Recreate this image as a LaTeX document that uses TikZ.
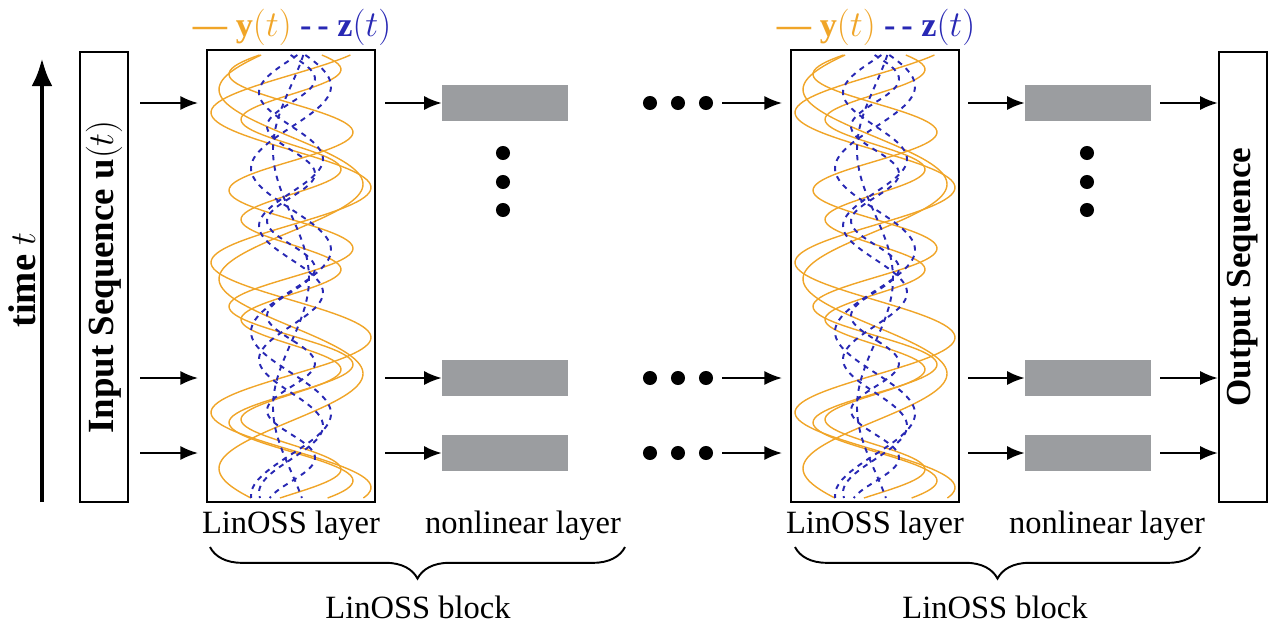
\documentclass[tikz,border=0pt]{standalone}
\usepackage{fontspec}
\setmainfont{Liberation Serif}
\usetikzlibrary{arrows.meta, decorations.pathreplacing}
\definecolor{yorange}{RGB}{240, 165, 40}
\definecolor{zblue}{RGB}{40, 40, 180}
\definecolor{blockgray}{RGB}{155, 157, 160}

\newcommand{\oscwaves}[1]{%
    \begin{scope}
        \clip (#1-82, 52) rectangle (#1+82, 500);
        \foreach \amp/\frq/\ph in {80/2.4/0, 62/3.1/40, 72/1.9/100, 50/3.6/200} {
            \draw[yorange, thick] plot[domain=55:498, samples=200] ({#1+\amp*sin(\frq*\x+\ph)}, \x);
        }
        \foreach \amp/\frq/\ph in {32/2.7/20, 24/3.8/150, 40/2.2/260, 18/1.4/60} {
            \draw[zblue, line width=1.1pt, dashed] plot[domain=55:498, samples=200] ({#1+\amp*sin(\frq*\x+\ph)}, \x);
        }
    \end{scope}
}

\begin{document}
\begin{tikzpicture}[x=0.02cm, y=-0.02cm,
        seqbox/.style={draw, line width=1.4pt, minimum width=0.96cm, minimum height=9cm, inner sep=0pt},
        layerbox/.style={draw, line width=1.4pt, minimum width=3.36cm, minimum height=9.04cm, inner sep=0pt},
        nonlin/.style={fill=blockgray, minimum width=2.52cm, minimum height=0.72cm, inner sep=0pt},
        conn/.style={-{Latex[length=10pt, width=8pt]}, line width=1.1pt},
        lbl/.style={font=\fontsize{18.5}{20}\selectfont},
        dot/.style={circle, fill, inner sep=0pt, minimum size=8pt},
        brace/.style={decorate, decoration={brace, amplitude=18pt, mirror}, line width=1.1pt}
    ]
        \useasboundingbox (0,0) rectangle (1280,639);

        % time axis
        \coordinate (tbot) at (42, 502);
        \coordinate (ttop) at (42, 58);
        \draw[-{Latex[length=16pt, width=12pt]}, line width=2.8pt] (tbot) -- (ttop);
        \node[rotate=90, font=\bfseries\fontsize{22}{24}\selectfont] (tlabel) at (22, 280) {time $t$};

        % input / output sequences
        \node[seqbox] (in) at (104, 277) {};
        \node[rotate=90, font=\bfseries\fontsize{21}{23}\selectfont] at (in.center) {Input Sequence $\mathbf{u}(t)$};
        \node[seqbox] (out) at (1243, 277) {};
        \node[rotate=90, font=\bfseries\fontsize{20}{22}\selectfont] at (out.center) {Output Sequence};

        % linoss layers
        \node[layerbox] (lin1) at (291, 276) {};
        \node[layerbox] (lin2) at (875, 276) {};
        \oscwaves{291}
        \oscwaves{875}
        \node[layerbox] at (291, 276) {};
        \node[layerbox] at (875, 276) {};

        % legends
        \node[font=\fontsize{19.5}{21}\selectfont] (leg1) at (292, 27) {\textcolor{yorange}{\textbf{---} $\mathbf{y}(t)$} \textcolor{zblue}{\textbf{-\,-} $\mathbf{z}(t)$}};
        \node[font=\fontsize{19.5}{21}\selectfont] (leg2) at (876, 27) {\textcolor{yorange}{\textbf{---} $\mathbf{y}(t)$} \textcolor{zblue}{\textbf{-\,-} $\mathbf{z}(t)$}};

        % rows
        \foreach \i/\y in {a/103, b/378, c/453} {
            \coordinate (s1\i) at (140, \y);
            \coordinate (e1\i) at (198, \y);
            \draw[conn] (s1\i) -- (e1\i);
            \coordinate (s2\i) at (385, \y);
            \node[nonlin] (n1\i) at (505, \y) {};
            \draw[conn] (s2\i) -- (n1\i);
            \node[dot] (h1\i) at (650, \y) {};
            \node[dot] (h2\i) at (678, \y) {};
            \node[dot] (h3\i) at (706, \y) {};
            \coordinate (s3\i) at (722, \y);
            \coordinate (e3\i) at (782, \y);
            \draw[conn] (s3\i) -- (e3\i);
            \coordinate (s4\i) at (968, \y);
            \node[nonlin] (n2\i) at (1088, \y) {};
            \draw[conn] (s4\i) -- (n2\i);
            \coordinate (s5\i) at (1160, \y);
            \draw[conn] (s5\i) -- (out.west |- s5\i);
        }

        % vertical dots
        \foreach \y [count=\k] in {153, 182, 210} {
            \node[dot] (v1\k) at (503, \y) {};
            \node[dot] (v2\k) at (1087, \y) {};
        }

        % labels
        \node[lbl] (l1) at (291, 526) {LinOSS layer};
        \node[lbl] (l2) at (523, 526) {nonlinear layer};
        \node[lbl] (l3) at (875, 526) {LinOSS layer};
        \node[lbl] (l4) at (1107, 526) {nonlinear layer};

        % braces
        \coordinate (b1s) at (210, 547);
        \coordinate (b1e) at (625, 547);
        \coordinate (b2s) at (795, 547);
        \coordinate (b2e) at (1200, 547);
        \draw[brace] (b1s) -- (b1e);
        \draw[brace] (b2s) -- (b2e);
        \node[lbl] (blk1) at (418, 607) {LinOSS block};
        \node[lbl] (blk2) at (995, 607) {LinOSS block};
    \end{tikzpicture}
\end{document}
